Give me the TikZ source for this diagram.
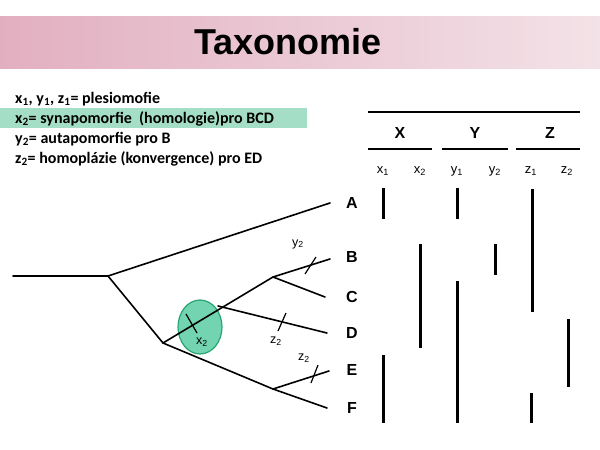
\documentclass[tikz,border=0pt]{standalone}
\usepackage{fontspec}
\setmainfont{Carlito}
\newfontfamily\arialf{Liberation Sans}
\definecolor{bandL}{RGB}{226,175,192}
\definecolor{bandR}{RGB}{243,226,231}
\definecolor{hl}{RGB}{165,222,198}
\definecolor{ellf}{RGB}{90,205,165}
\definecolor{elld}{RGB}{40,165,115}
\begin{document}
\begin{tikzpicture}[x=1pt,y=-1pt,
  br/.style={line width=1.6pt,line cap=round},
  bar/.style={line width=3pt},
  rule/.style={line width=1.2pt},
  tick/.style={line width=1.2pt},
  leg/.style={anchor=base west,font=\bfseries\fontsize{16}{18}\selectfont,inner sep=0pt},
  tax/.style={font=\arialf\bfseries\fontsize{16}{18}\selectfont},
  sub/.style={font=\arialf\fontsize{13}{15}\selectfont},
  lab/.style={font=\arialf\fontsize{12.5}{14}\selectfont}]
\useasboundingbox (0,0) rectangle (600,450);
\shade[left color=bandL,right color=bandR] (0,16) rectangle (600,68);
\node (title) at (288,42) {\arialf\bfseries\fontsize{36}{40}\selectfont Taxonomie};
\fill[hl] (0,108) rectangle (307,128);
\node[leg] (l1) at (15,103) {x\textsubscript{1}, y\textsubscript{1}, z\textsubscript{1}= plesiomofie};
\node[leg] (l2) at (15,123) {x\textsubscript{2}= synapomorfie\ \ (homologie)pro BCD};
\node[leg] (l3) at (15,143) {y\textsubscript{2}= autapomorfie pro B};
\node[leg] (l4) at (15,163) {z\textsubscript{2}= homoplázie (konvergence) pro ED};
% tree
\coordinate (r) at (13,276);
\coordinate (n1) at (108,276);
\coordinate (n2) at (163,343);
\coordinate (nD) at (218,306);
\coordinate (n3) at (273,277);
\coordinate (n4) at (273,389);
\coordinate (eA) at (330,203);
\coordinate (eB) at (330,259);
\coordinate (eC) at (325,297);
\coordinate (eD) at (327,333);
\coordinate (eE) at (329,371);
\coordinate (eF) at (327,408);
\fill[ellf,opacity=0.85] (200,327) ellipse [x radius=22,y radius=27];
\draw[elld,line width=1.2pt] (200,327) ellipse [x radius=22,y radius=27];
\draw[br] (r) -- (n1) -- (eA);
\draw[br] (n1) -- (n2) -- (n3) -- (eB);
\draw[br] (n3) -- (eC);
\draw[br] (nD) -- (eD);
\draw[br] (n2) -- (n4) -- (eF);
\draw[br] (n4) -- (eE);
\draw[tick] (186,314) -- (197,333);
\draw[tick] (305,274) -- (316,257);
\draw[tick] (278,331) -- (286,313);
\draw[tick] (311,383) -- (318,365);
\node[lab] (lx2) at (202,342) {x\textsubscript{2}};
\node[lab] (ly2) at (298,244) {y\textsubscript{2}};
\node[lab] (lz2a) at (276,341) {z\textsubscript{2}};
\node[lab] (lz2b) at (304,358) {z\textsubscript{2}};
\foreach \n/\y in {A/203,B/257,C/297,D/333,E/370,F/408}
  \node[tax] (t\n) at (352,\y) {\n};
% table
\draw[rule] (368,112) -- (580,112);
\draw[rule] (368,149) -- (432,149);
\draw[rule] (442,149) -- (508,149);
\draw[rule] (516,149) -- (580,149);
\node[tax] (hX) at (400,133) {X};
\node[tax] (hY) at (475,133) {Y};
\node[tax] (hZ) at (550,133) {Z};
\node[sub] (sx1) at (383,171) {x\textsubscript{1}};
\node[sub] (sx2) at (420,171) {x\textsubscript{2}};
\node[sub] (sy1) at (457,171) {y\textsubscript{1}};
\node[sub] (sy2) at (495,171) {y\textsubscript{2}};
\node[sub] (sz1) at (531,171) {z\textsubscript{1}};
\node[sub] (sz2) at (567,171) {z\textsubscript{2}};
\draw[bar] (383,188) -- (383,219);
\draw[bar] (383,355) -- (383,423);
\draw[bar] (420,244) -- (420,348);
\draw[bar] (457,188) -- (457,219);
\draw[bar] (457,281) -- (457,423);
\draw[bar] (495,244) -- (495,275);
\draw[bar] (532,189) -- (532,312);
\draw[bar] (531,393) -- (531,423);
\draw[bar] (568,319) -- (568,387);
\end{tikzpicture}
\end{document}
